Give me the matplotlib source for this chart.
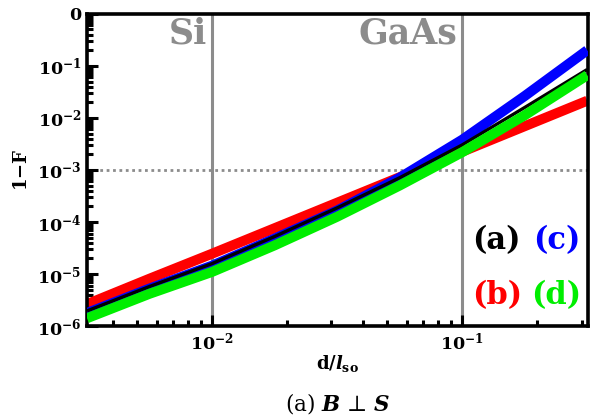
import numpy as np
import matplotlib.pyplot as plt
from matplotlib.ticker import FixedLocator, FixedFormatter, LogLocator, NullFormatter

plt.rcParams['font.family'] = ['DejaVu Serif']
plt.rcParams['font.weight'] = 'bold'
plt.rcParams['mathtext.fontset'] = 'custom'
plt.rcParams['mathtext.rm'] = 'DejaVu Serif:bold'
plt.rcParams['mathtext.bf'] = 'DejaVu Serif:bold'
plt.rcParams['mathtext.it'] = 'DejaVu Serif:italic:bold'
plt.rcParams['mathtext.bfit'] = 'DejaVu Serif:italic:bold'

# log10(d/l_so) sample points and log10(1-F)
log_d = [-2.5, -2.25, -2.0, -1.75, -1.5, -1.25, -1.0, -0.75, -0.5]
curve_a = [-5.71, -5.24, -4.80, -4.28, -3.73, -3.15, -2.52, -1.80, -1.07]
curve_b = [-5.58, -5.09, -4.61, -4.12, -3.63, -3.14, -2.65, -2.16, -1.67]
curve_c = [-5.75, -5.28, -4.84, -4.32, -3.78, -3.15, -2.42, -1.58, -0.70]
curve_d = [-5.85, -5.38, -4.96, -4.45, -3.90, -3.30, -2.66, -1.95, -1.18]

materials = ['Si', 'GaAs']
material_d = [1e-2, 1e-1]
threshold = 1e-3

y_ticks = [1e-6, 1e-5, 1e-4, 1e-3, 1e-2, 1e-1, 1e0]
y_labels = [r'$10^{-6}$', r'$10^{-5}$', r'$10^{-4}$', r'$10^{-3}$',
            r'$10^{-2}$', r'$10^{-1}$', '0']
x_ticks = [1e-2, 1e-1]
x_labels = [r'$10^{-2}$', r'$10^{-1}$']

d = 10 ** np.array(log_d)

fig = plt.figure(figsize=(5.96, 4.18), dpi=100)
ax = fig.add_axes([0.146, 0.22, 0.841, 0.747])

for xm in material_d:
    ax.axvline(xm, color='#8c8c8c', lw=2.2, zorder=1)
ax.axhline(threshold, color='#8c8c8c', lw=2.0, ls=(0, (1, 1.3)), zorder=1)

ax.plot(d, 10 ** np.array(curve_b), color='#ff0000', lw=7.2, zorder=2, solid_capstyle='butt')
ax.plot(d, 10 ** np.array(curve_c), color='#0000ff', lw=7.2, zorder=3, solid_capstyle='butt')
ax.plot(d, 10 ** np.array(curve_a), color='black', lw=2.4, zorder=4, solid_capstyle='butt')
ax.plot(d, 10 ** np.array(curve_d), color='#00ee00', lw=7.2, zorder=5, solid_capstyle='butt')

ax.set_xscale('log')
ax.set_yscale('log')
ax.set_xlim(10 ** -2.5, 10 ** -0.496)
ax.set_ylim(1e-6, 1e0)

ax.yaxis.set_major_locator(FixedLocator(y_ticks))
ax.yaxis.set_major_formatter(FixedFormatter(y_labels))
ax.yaxis.set_minor_locator(LogLocator(base=10, subs=np.arange(2, 10)))
ax.yaxis.set_minor_formatter(NullFormatter())
ax.xaxis.set_major_locator(FixedLocator(x_ticks))
ax.xaxis.set_major_formatter(FixedFormatter(x_labels))
ax.xaxis.set_minor_locator(LogLocator(base=10, subs=np.arange(2, 10)))
ax.xaxis.set_minor_formatter(NullFormatter())

ax.tick_params(which='both', direction='in', top=False, right=False, width=2.2, labelsize=12.5)
ax.tick_params(which='major', length=8, pad=4)
ax.tick_params(which='minor', length=4.5)
for s in ax.spines.values():
    s.set_linewidth(2.6)

ax.set_xlabel(r'd/$\mathit{l}_{\mathbf{so}}$', fontsize=13, fontweight='bold', labelpad=0)
ax.set_ylabel(r'1$-$F', fontsize=13, fontweight='bold', labelpad=4)

for name, xm in zip(materials, material_d):
    ax.text(xm / 1.05, 0.42, name, fontsize=25, fontweight='bold', color='#8c8c8c',
            ha='right', va='center', zorder=6)

ax.text(0.768, 0.275, '(a)', transform=ax.transAxes, fontsize=22, fontweight='bold',
        color='black', ha='left', va='center')
ax.text(0.890, 0.275, '(c)', transform=ax.transAxes, fontsize=22, fontweight='bold',
        color='#0000ff', ha='left', va='center')
ax.text(0.768, 0.098, '(b)', transform=ax.transAxes, fontsize=22, fontweight='bold',
        color='#ff0000', ha='left', va='center')
ax.text(0.886, 0.098, '(d)', transform=ax.transAxes, fontsize=22, fontweight='bold',
        color='#00ee00', ha='left', va='center')

fig.text(0.567, 1 - 403 / 418, '(a) $\\mathbfit{B}$ \u22a5 $\\mathbfit{S}$', fontsize=15.5,
         family='DejaVu Serif', fontweight='normal', ha='center', va='center')

fig.savefig('out.png', dpi=100)
